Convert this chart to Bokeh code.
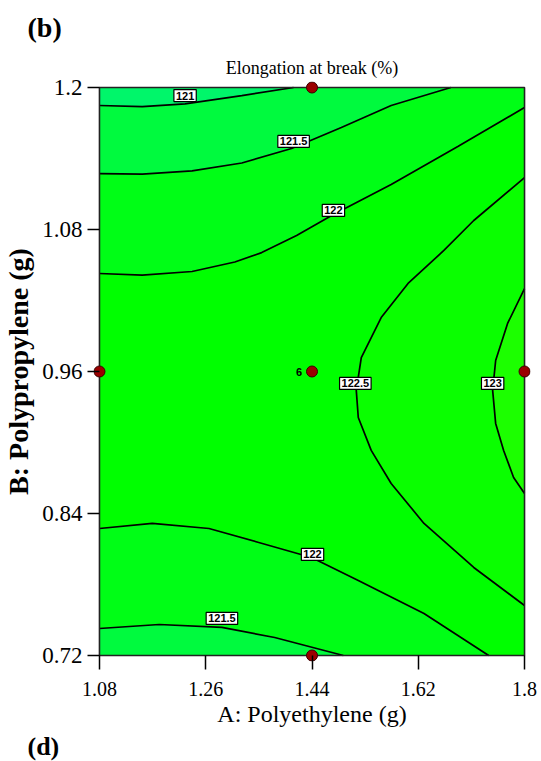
from bokeh.plotting import figure
from bokeh.models import Range1d, FixedTicker, NumeralTickFormatter, Label, Title
from bokeh.embed import file_html
from bokeh.resources import INLINE

# ---------------- data ----------------
x_ticks = [1.08, 1.26, 1.44, 1.62, 1.8]
y_ticks = [0.72, 0.84, 0.96, 1.08, 1.2]

# contour lines of Elongation at break (%)
c121_x = [1.08, 1.1525, 1.2250, 1.3211, 1.4088]
c121_y = [1.1848, 1.1839, 1.1861, 1.1932, 1.2]

c1215u_x = [1.08, 1.1525, 1.2368, 1.3211, 1.4054, 1.4897, 1.5741, 1.6752]
c1215u_y = [1.1273, 1.1268, 1.1295, 1.1362, 1.1485, 1.1662, 1.1848, 1.2]

c122u_x = [1.08, 1.1525, 1.2368, 1.3093, 1.3548, 1.4139, 1.4763, 1.5741, 1.6870, 1.8]
c122u_y = [1.0428, 1.0415, 1.0445, 1.0525, 1.0605, 1.0750, 1.0927, 1.1180, 1.1501, 1.1831]

c1225_x = [1.8, 1.7140, 1.6634, 1.6027, 1.5572, 1.5235, 1.5150, 1.5184, 1.5403, 1.5741, 1.6297, 1.7140, 1.8]
c1225_y = [1.1239, 1.0876, 1.0623, 1.0344, 1.0056, 0.9718, 0.9440, 0.9211, 0.8933, 0.8654, 0.8316, 0.7944, 0.7623]

c123_x = [1.8, 1.7713, 1.7511, 1.7460, 1.7511, 1.7646, 1.7815, 1.8]
c123_y = [1.0301, 1.0006, 0.9693, 0.9440, 0.9161, 0.8933, 0.8704, 0.8569]

c122l_x = [1.08, 1.1694, 1.2655, 1.3498, 1.4392, 1.5184, 1.6297, 1.7393]
c122l_y = [0.8273, 0.8316, 0.8273, 0.8155, 0.8028, 0.7834, 0.7555, 0.72]

c1215l_x = [1.08, 1.1812, 1.2874, 1.3768, 1.4931]
c1215l_y = [0.7428, 0.7462, 0.7437, 0.7352, 0.72]

lab_text = ["121", "121.5", "122", "122.5", "123", "122", "121.5"]
lab_x = [1.2250, 1.4088, 1.4763, 1.5134, 1.7460, 1.4409, 1.2874]
lab_y = [1.1932, 1.1544, 1.0961, 0.9499, 0.9499, 0.8054, 0.7513]

# design points
pts_x = [1.08, 1.44, 1.44, 1.8, 1.44]
pts_y = [0.96, 1.2, 0.96, 0.96, 0.72]
center_reps = "6"

# ---------------- figure ----------------
x_min, x_max = x_ticks[0], x_ticks[-1]
y_min, y_max = y_ticks[0], y_ticks[-1]
pad_px = 6
pad_x = pad_px * (x_max - x_min) / 427
pad_y = pad_px * (y_max - y_min) / 568

serif = "Liberation Serif"
narrow = "Liberation Sans Narrow, Liberation Sans, sans-serif"

p = figure(width=538, height=761, output_backend="svg", toolbar_location=None,
           x_range=Range1d(x_min - pad_x, x_max + pad_x),
           y_range=Range1d(y_min - pad_y, y_max + pad_y),
           title="(b)")
p.min_border_left = 91
p.min_border_right = 8
p.min_border_top = 81
p.min_border_bottom = 100
p.outline_line_color = None
p.xgrid.visible = False
p.ygrid.visible = False
p.background_fill_color = "white"
p.border_fill_color = "white"

# outermost title: panel letter
p.title.align = "left"
p.title.vertical_align = "top"
p.title.offset = -66
p.title.text_font = serif
p.title.text_font_size = "28px"
p.title.text_font_style = "bold"
p.title.text_color = "black"
p.title.standoff = 14

# chart title, next to the frame
p.add_layout(Title(text="Elongation at break (%)", align="center", standoff=8, text_font=serif,
                   text_font_size="18px", text_font_style="normal", text_color="black"), "above")

for ax, ticks, out, size in ((p.xaxis[0], x_ticks, 8, "20px"), (p.yaxis[0], y_ticks, 6, "23px")):
    ax.ticker = FixedTicker(ticks=ticks)
    ax.formatter = NumeralTickFormatter(format="0.[00]")
    ax.axis_line_color = None
    ax.major_tick_in = pad_px
    ax.major_tick_out = out
    ax.major_tick_line_color = "black"
    ax.major_tick_line_width = 1.5
    ax.minor_tick_line_color = None
    ax.major_label_text_font = serif
    ax.major_label_text_font_size = size
    ax.major_label_text_color = "black"
    ax.axis_label_text_font = serif
    ax.axis_label_text_color = "black"
p.yaxis.major_label_standoff = 5
p.xaxis.major_label_standoff = 12
p.xaxis.axis_label = "A: Polyethylene (g)"
p.xaxis.axis_label_text_font_size = "24px"
p.xaxis.axis_label_text_font_style = "normal"
p.xaxis.axis_label_standoff = 2
p.yaxis.axis_label = "B: Polypropylene (g)"
p.yaxis.axis_label_text_font_size = "28px"
p.yaxis.axis_label_text_font_style = "bold"
p.yaxis.axis_label_standoff = 5

p.add_layout(Title(text="(d)", align="left", offset=-66, standoff=0, text_font=serif,
                   text_font_size="26px", text_font_style="bold", text_color="black"), "below")

# background and bands
base = "#00ff00"
p.quad(left=x_min, right=x_max, bottom=y_min, top=y_max, fill_color=base, line_color=None)
band_1215_122 = "#00fe16"
band_121_1215 = "#00fa3e"
band_lt_121 = "#00f66a"
band_1225_123 = "#0aff00"
band_gt_123 = "#1cff00"

p.patch(c122u_x + [x_max, x_min], c122u_y + [y_max, y_max], fill_color=band_1215_122, line_color=None)
p.patch(c1215u_x + [x_min], c1215u_y + [y_max], fill_color=band_121_1215, line_color=None)
p.patch(c121_x + [x_min], c121_y + [y_max], fill_color=band_lt_121, line_color=None)
p.patch(c122l_x + [x_min], c122l_y + [y_min], fill_color=band_1215_122, line_color=None)
p.patch(c1215l_x + [x_min], c1215l_y + [y_min], fill_color=band_121_1215, line_color=None)
p.patch(c1225_x, c1225_y, fill_color=band_1225_123, line_color=None)
p.patch(c123_x, c123_y, fill_color=band_gt_123, line_color=None)

for xs, ys in ((c121_x, c121_y), (c1215u_x, c1215u_y), (c122u_x, c122u_y), (c1225_x, c1225_y),
               (c123_x, c123_y), (c122l_x, c122l_y), (c1215l_x, c1215l_y)):
    p.line(xs, ys, line_color="black", line_width=1.7)

# frame border
p.quad(left=x_min, right=x_max, bottom=y_min, top=y_max, fill_color=None,
       line_color="#222222", line_width=1.6)

# contour labels
for t, lx, ly in zip(lab_text, lab_x, lab_y):
    p.add_layout(Label(x=lx, y=ly, text=t, text_align="center", text_baseline="middle",
                       text_font=narrow, text_font_size="11px", text_font_style="bold",
                       text_color="black", background_fill_color="white",
                       border_line_color="black", border_line_width=1.2, padding=2))

# design points
p.scatter(pts_x, pts_y, size=11, fill_color="#9a0000", line_color="#3a0000", line_width=1)
p.add_layout(Label(x=pts_x[2], y=pts_y[2], x_offset=-13, text=center_reps, text_align="center",
                   text_baseline="middle", text_font=narrow, text_font_style="bold",
                   text_font_size="11px", text_color="black"))

open("out.html", "w").write(file_html(p, INLINE))
